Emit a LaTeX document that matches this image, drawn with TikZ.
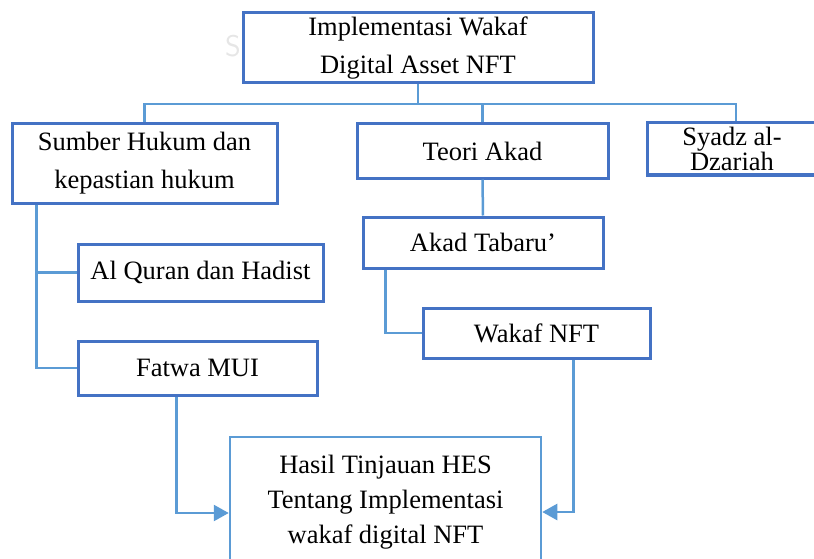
\documentclass[tikz,border=0pt]{standalone}
\usepackage{fontspec}
\setmainfont{Liberation Serif}
\usetikzlibrary{arrows.meta,positioning}
\definecolor{boxblue}{HTML}{4472C4}
\definecolor{lineblue}{HTML}{5B9BD5}
\definecolor{mark}{HTML}{E6E6E6}

\begin{document}
\begin{tikzpicture}[x=1pt,y=-1pt,
  box/.style={draw=boxblue,fill=white,line width=3pt,inner sep=0pt,align=center,font=\fontsize{26.5}{38}\selectfont},
  link/.style={draw=lineblue,line width=2.5pt},
  arrowlink/.style={link,-{Triangle[length=15pt,width=16pt]}}]
\useasboundingbox (0,0) rectangle (814,559);
\node[text=mark,font=\sffamily\fontsize{30}{30}\selectfont] (wm) at (233,46) {S};
\node[box,minimum width=350pt,minimum height=70pt] (top) at (418,48) {Implementasi Wakaf\\Digital Asset NFT};
\node[box,minimum width=265pt,minimum height=79pt] (sumber) at (144.5,163.5) {Sumber Hukum dan\\kepastian hukum};
\node[box,minimum width=251pt,minimum height=54pt] (teori) at (482.5,151) {Teori Akad};
\node[box,minimum width=170pt,minimum height=52pt,font=\fontsize{26.5}{25}\selectfont] (syadz) at (732,149) {Syadz al-\\Dzariah};
\node[box,minimum width=245pt,minimum height=57pt] (quran) at (200.5,272.5) {Al Quran dan Hadist};
\node[box,minimum width=239pt,minimum height=54pt] (fatwa) at (197.5,368) {Fatwa MUI};
\node[box,minimum width=240pt,minimum height=51pt] (tabaru) at (483,242.5) {Akad Tabaru’};
\node[box,minimum width=227pt,minimum height=50pt] (wnft) at (536.5,333) {Wakaf NFT};
\node[box,draw=lineblue,line width=2.5pt,minimum width=311pt,minimum height=130pt,font=\fontsize{26.5}{35}\selectfont] (hasil) at (385.5,502) {Hasil Tinjauan HES\\Tentang Implementasi\\wakaf digital NFT};
% bus from the top box
\coordinate (bus) at (418,104);
\draw[link] (top.south) -- (bus);
\draw[link] (sumber.north) |- (bus) -| ([xshift=4pt]syadz.north);
\draw[link] (teori.north) -- (teori.north |- bus);
% left branch
\coordinate (lbar) at ([xshift=26pt]sumber.south west);
\draw[link] (lbar) |- (fatwa.west);
\draw[link] (quran.west) -- (quran.west -| lbar);
% middle branch
\draw[link] (teori.south) -- (tabaru.north);
\draw[link] ([xshift=24pt]tabaru.south west) |- (wnft.west);
% into the result
\draw[arrowlink] ([xshift=100pt]fatwa.south west) |- ([yshift=-11pt]hasil.west);
\draw[arrowlink] ([xshift=152pt]wnft.south west) |- ([yshift=-10pt]hasil.east);
\end{tikzpicture}
\end{document}
